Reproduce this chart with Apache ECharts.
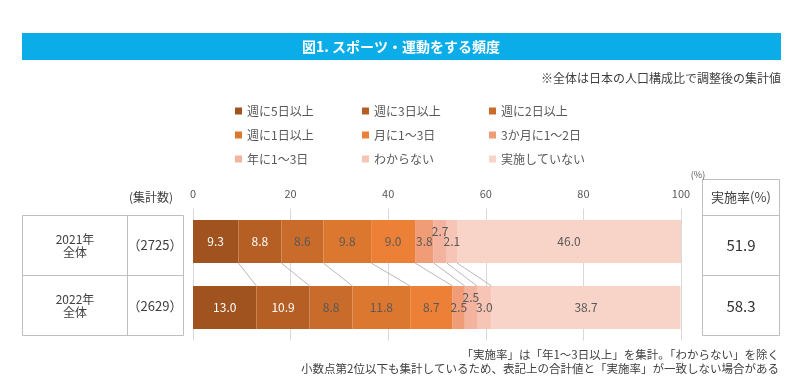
<!DOCTYPE html>
<html>
<head>
<meta charset="utf-8">
<script src="https://cdn.jsdelivr.net/npm/echarts@6/dist/echarts.min.js"></script>
<style>
html,body{margin:0;padding:0;background:#fff;}
#main{width:803px;height:390px;}
</style>
</head>
<body>
<div id="main"></div>
<script>
// ---- data ----
const categories = ['2021年\n全体', '2022年\n全体'];
const seriesNames = ['週に5日以上', '週に3日以上', '週に2日以上', '週に1日以上', '月に1～3日', '3か月に1～2日', '年に1～3日', 'わからない', '実施していない'];
const values2021 = [9.3, 8.8, 8.6, 9.8, 9.0, 3.8, 2.7, 2.1, 46.0];
const values2022 = [13.0, 10.9, 8.8, 11.8, 8.7, 2.5, 2.5, 3.0, 38.7];
const sampleSizes = [2725, 2629];
const implementationRates = [51.9, 58.3];
const axisTicks = [0, 20, 40, 60, 80, 100];

// ---- styles ----
const colors = ['#A0531F', '#B65F25', '#C86B2B', '#DC772F', '#EC8036', '#F09C77', '#F4B39E', '#F6C5B6', '#F8D4C8'];
const FONT = '"Noto Sans CJK JP", "Noto Sans", sans-serif';
const TXT = '#404040';
const BAR_W = 43;

const yearValues = [values2021, values2022];

// cumulative boundaries for connector lines
const connectors = [];
let c0 = 0, c1 = 0;
for (let i = 0; i < seriesNames.length - 1; i++) {
  c0 += values2021[i]; c1 += values2022[i];
  connectors.push([+c0.toFixed(1), +c1.toFixed(1)]);
}

const barSeries = seriesNames.map((name, i) => ({
  name: name,
  type: 'bar',
  stack: 'total',
  barWidth: BAR_W,
  itemStyle: { color: colors[i] },
  label: {
    show: true,
    position: 'inside',
    offset: i === 6 ? [0, -10] : [0, 0],
    color: i < 2 ? '#ffffff' : '#595959',
    fontSize: 12,
    fontFamily: FONT,
    formatter: p => Number(p.value).toFixed(1)
  },
  emphasis: { disabled: true },
  data: yearValues.map(v => v[i])
}));

const connectorSeries = {
  type: 'custom',
  name: 'connector',
  silent: true,
  encode: { x: [0, 1] },
  renderItem: function (params, api) {
    const a = api.coord([api.value(0), 0]);
    const b = api.coord([api.value(1), 1]);
    return {
      type: 'line',
      shape: { x1: a[0], y1: a[1] + BAR_W / 2, x2: b[0], y2: b[1] - BAR_W / 2 },
      style: { stroke: '#a6a6a6', lineWidth: 0.8 }
    };
  },
  data: connectors,
  z: 3
};

const legendCols = [0, 1, 2].map(j => ({
  orient: 'vertical',
  left: [230, 357, 484][j],
  top: 99,
  itemWidth: 7,
  itemHeight: 7,
  itemGap: 10,
  icon: 'rect',
  selectedMode: false,
  textStyle: { color: '#595959', fontSize: 12, fontFamily: FONT, lineHeight: 14 },
  data: [seriesNames[j], seriesNames[j + 3], seriesNames[j + 6]]
}));

// ---- graphic (table / titles) ----
const graphics = [
  { type: 'rect', shape: { x: 22, y: 33, width: 759, height: 27 }, style: { fill: '#0AADE8' } },
  { type: 'text', x: 401, y: 47, style: { text: '図1. スポーツ・運動をする頻度', fill: '#fff', fontSize: 14, fontWeight: 'bold', fontFamily: FONT, align: 'center', verticalAlign: 'middle' } },
  { type: 'text', x: 781, y: 78, style: { text: '※全体は日本の人口構成比で調整後の集計値', fill: TXT, fontSize: 12, fontFamily: FONT, align: 'right', verticalAlign: 'middle' } },
  // left table
  { type: 'rect', shape: { x: 22.5, y: 215.5, width: 161, height: 120 }, style: { fill: 'none', stroke: '#bfbfbf', lineWidth: 1 } },
  { type: 'line', shape: { x1: 127.5, y1: 215.5, x2: 127.5, y2: 335.5 }, style: { stroke: '#bfbfbf', lineWidth: 1 } },
  { type: 'line', shape: { x1: 22.5, y1: 275.5, x2: 183.5, y2: 275.5 }, style: { stroke: '#bfbfbf', lineWidth: 1 } },
  { type: 'text', x: 151, y: 197, style: { text: '(集計数)', fill: TXT, fontSize: 12, fontFamily: FONT, align: 'center', verticalAlign: 'middle' } },
  // right table
  { type: 'rect', shape: { x: 702.5, y: 179.5, width: 77, height: 156 }, style: { fill: 'none', stroke: '#bfbfbf', lineWidth: 1 } },
  { type: 'line', shape: { x1: 702.5, y1: 215.5, x2: 779.5, y2: 215.5 }, style: { stroke: '#bfbfbf', lineWidth: 1 } },
  { type: 'line', shape: { x1: 702.5, y1: 275.5, x2: 779.5, y2: 275.5 }, style: { stroke: '#bfbfbf', lineWidth: 1 } },
  { type: 'text', x: 741, y: 197, style: { text: '実施率(%)', fill: TXT, fontSize: 13, fontFamily: FONT, align: 'center', verticalAlign: 'middle' } },
  { type: 'text', x: 698, y: 175, style: { text: '(%)', fill: '#595959', fontSize: 9, fontFamily: FONT, align: 'center', verticalAlign: 'middle' } },
  // notes
  { type: 'text', x: 779, y: 355, style: { text: '「実施率」は「年1～3日以上」を集計。「わからない」を除く', fill: TXT, fontSize: 11.5, fontFamily: FONT, align: 'right', verticalAlign: 'middle' } },
  { type: 'text', x: 779, y: 369, style: { text: '小数点第2位以下も集計しているため、表記上の合計値と「実施率」が一致しない場合がある', fill: TXT, fontSize: 11.5, fontFamily: FONT, align: 'right', verticalAlign: 'middle' } }
];
const rowCenters = [245.5, 306];
categories.forEach((cat, i) => {
  graphics.push({ type: 'text', x: 75, y: rowCenters[i], style: { text: cat, fill: TXT, fontSize: 12, lineHeight: 13, fontFamily: FONT, align: 'center', verticalAlign: 'middle' } });
  graphics.push({ type: 'text', x: 155, y: rowCenters[i], style: { text: '（' + sampleSizes[i] + '）', fill: TXT, fontSize: 13, fontFamily: FONT, align: 'center', verticalAlign: 'middle' } });
  graphics.push({ type: 'text', x: 741, y: rowCenters[i], style: { text: implementationRates[i].toFixed(1), fill: '#333', fontSize: 15, fontFamily: FONT, align: 'center', verticalAlign: 'middle' } });
});

const chart = echarts.init(document.getElementById('main'), null, { renderer: 'canvas' });
chart.setOption({
  animation: false,
  backgroundColor: '#ffffff',
  textStyle: { fontFamily: FONT },
  grid: { left: 193, right: 122, top: 208.5, bottom: 49.5, containLabel: false },
  legend: legendCols,
  xAxis: {
    type: 'value',
    position: 'top',
    min: axisTicks[0],
    max: axisTicks[axisTicks.length - 1],
    interval: axisTicks[1] - axisTicks[0],
    axisLine: { show: false },
    axisTick: { show: false },
    axisLabel: { color: '#595959', fontSize: 11, fontFamily: FONT, margin: 9 },
    splitLine: { show: true, lineStyle: { color: '#d9d9d9', width: 1 } }
  },
  yAxis: {
    type: 'category',
    inverse: true,
    data: categories,
    axisLine: { show: false },
    axisTick: { show: false },
    axisLabel: { show: false },
    splitLine: { show: false }
  },
  series: barSeries.concat([connectorSeries]),
  graphic: graphics
});
</script>
</body>
</html>
